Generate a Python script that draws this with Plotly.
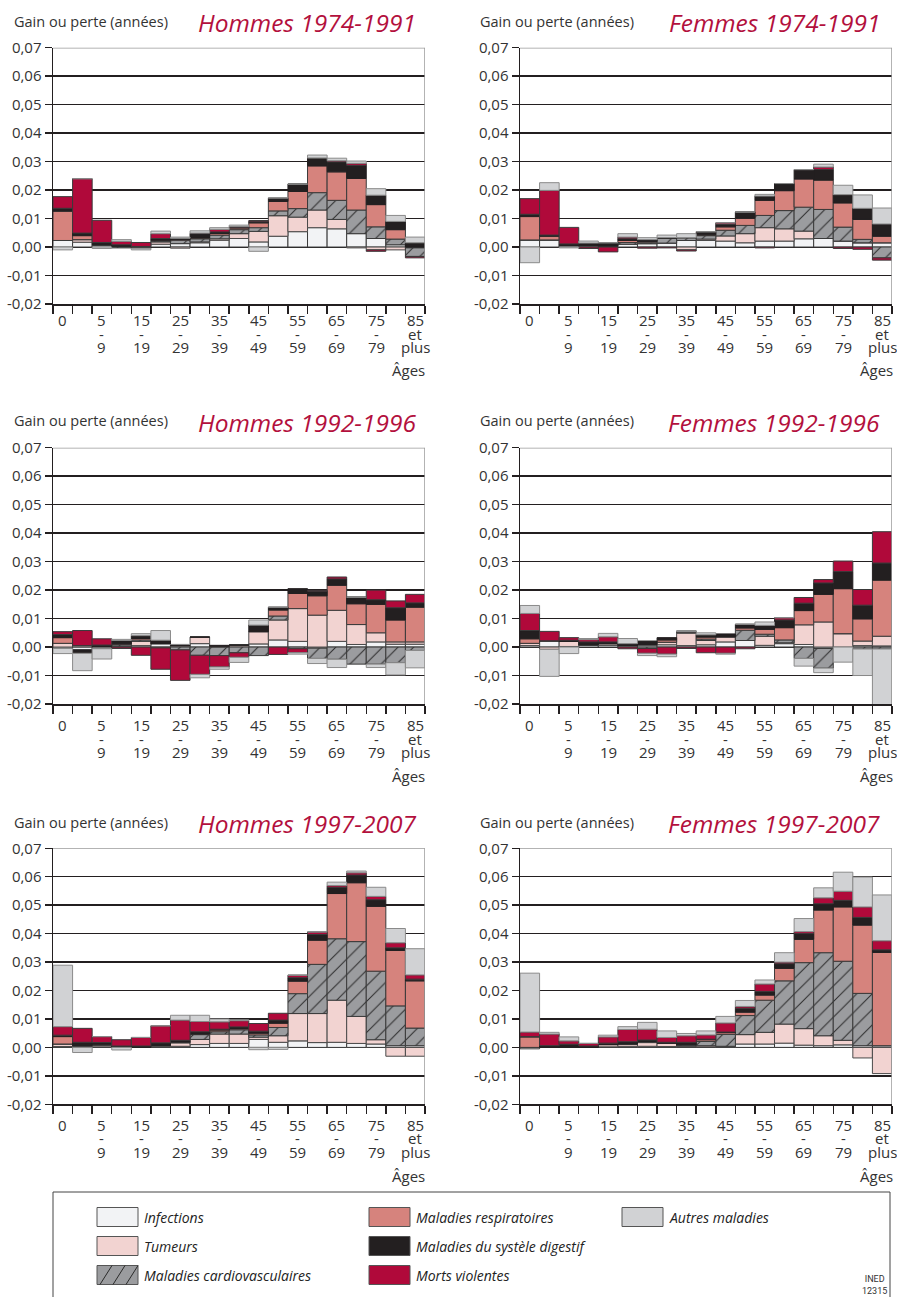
import plotly.graph_objects as go

W, H = 897, 1297

# ---------------- data ----------------
age_groups = ["0", "1-4", "5-9", "10-14", "15-19", "20-24", "25-29", "30-34", "35-39", "40-44",
              "45-49", "50-54", "55-59", "60-64", "65-69", "70-74", "75-79", "80-84", "85+"]
tick_lines = {0: ["0"], 2: ["5", "-", "9"], 4: ["15", "-", "19"], 6: ["25", "-", "29"],
              8: ["35", "-", "39"], 10: ["45", "-", "49"], 12: ["55", "-", "59"],
              14: ["65", "-", "69"], 16: ["75", "-", "79"], 18: ["85", "et", "plus"]}
y_tickvals = [-0.02, -0.01, 0.0, 0.01, 0.02, 0.03, 0.04, 0.05, 0.06, 0.07]
y_ticktext = ["-0,02", "-0,01", "0,00", "0,01", "0,02", "0,03", "0,04", "0,05", "0,06", "0,07"]

causes = ["Infections", "Tumeurs", "Maladies cardiovasculaires", "Maladies respiratoires",
          "Maladies du systèle digestif", "Morts violentes", "Autres maladies"]

# Hommes 1974-1991
H74_inf = [0.0023, 0.0017, 0.0006, 0.0003, 0.0002, 0.0010, 0.0012, 0.0015, 0.0024, 0.0030, 0.0018, 0.0038, 0.0054, 0.0068, 0.0064, 0.0047, 0.0030, 0.0008, 0.0]
H74_tum = [0.0, 0.0009, 0.0002, 0.0, 0.0, 0.0008, -0.0004, 0.0003, 0.0005, 0.0017, 0.0037, 0.0072, 0.0051, 0.0062, 0.0033, -0.0003, -0.0010, -0.0010, -0.0003]
H74_car = [0.0, 0.0, 0.0, -0.0003, 0.0, 0.0003, 0.0012, 0.0011, 0.0013, 0.0014, 0.0013, 0.0017, 0.0030, 0.0061, 0.0067, 0.0083, 0.0041, 0.0020, -0.0030]
H74_res = [0.0103, 0.0014, 0.0, 0.0, 0.0, 0.0003, 0.0002, 0.0003, 0.0006, 0.0006, 0.0017, 0.0033, 0.0060, 0.0094, 0.0100, 0.0111, 0.0078, 0.0033, 0.0]
H74_dig = [0.0010, 0.0009, 0.0008, 0.0005, -0.0004, 0.0006, 0.0004, 0.0015, 0.0005, 0.0002, 0.0004, 0.0010, 0.0026, 0.0026, 0.0035, 0.0046, 0.0033, 0.0029, 0.0015]
H74_vio = [0.0041, 0.0191, 0.0078, 0.0012, 0.0014, 0.0017, 0.0001, 0.0002, 0.0009, 0.0003, 0.0004, 0.0002, 0.0, 0.0002, 0.0004, 0.0007, -0.0005, 0.0, -0.0005]
H74_aut = [-0.0010, 0.0, -0.0005, 0.0006, -0.0006, 0.0009, 0.0004, 0.0008, 0.0006, 0.0005, -0.0015, 0.0001, 0.0, 0.0010, 0.0009, 0.0008, 0.0023, 0.0021, 0.0020]

# Femmes 1974-1991
F74_inf = [0.0025, 0.0025, 0.0005, 0.0004, 0.0003, 0.0010, 0.0012, 0.0014, 0.0023, 0.0023, 0.0021, 0.0015, 0.0021, 0.0021, 0.0029, 0.0030, 0.0021, 0.0015, 0.0015]
F74_tum = [0.0, 0.0, 0.0, 0.0, 0.0, 0.0, 0.0, 0.0, -0.0010, 0.0005, 0.0018, 0.0032, 0.0047, 0.0043, 0.0027, 0.0, 0.0, 0.0, 0.0]
F74_car = [0.0, 0.0, 0.0, 0.0002, 0.0, 0.0006, 0.0005, 0.0017, 0.0010, 0.0012, 0.0020, 0.0029, 0.0043, 0.0064, 0.0084, 0.0102, 0.0049, 0.0012, -0.0038]
F74_res = [0.0082, 0.0013, 0.0, 0.0, 0.0, 0.0007, 0.0003, 0.0, 0.0, 0.0003, 0.0012, 0.0025, 0.0053, 0.0070, 0.0099, 0.0103, 0.0085, 0.0070, 0.0023]
F74_dig = [0.0008, 0.0004, 0.0006, 0.0008, 0.0012, 0.0006, 0.0006, 0.0002, 0.0, 0.0008, 0.0008, 0.0022, 0.0015, 0.0025, 0.0033, 0.0037, 0.0029, 0.0039, 0.0043]
F74_vio = [0.0055, 0.0157, 0.0058, -0.0005, -0.0017, 0.0006, -0.0004, -0.0003, -0.0004, 0.0003, 0.0006, 0.0, -0.0003, 0.0, 0.0, 0.0009, -0.0005, -0.0008, -0.0008]
F74_aut = [-0.0055, 0.0027, -0.0003, 0.0007, 0.0, 0.0012, 0.0007, 0.0009, 0.0014, 0.0, 0.0, 0.0, 0.0006, 0.0, 0.0, 0.0010, 0.0033, 0.0047, 0.0056]

# Hommes 1992-1996
H92_inf = [-0.0005, -0.0010, -0.0006, 0.0003, 0.0005, 0.0012, 0.0, 0.0012, 0.0, 0.0, 0.0011, 0.0025, 0.0020, -0.0004, 0.0020, 0.0009, 0.0018, 0.0010, 0.0010]
H92_tum = [0.0013, 0.0005, 0.0002, 0.0, 0.0015, 0.0, 0.0004, 0.0023, 0.0, 0.0007, 0.0043, 0.0070, 0.0115, 0.0112, 0.0109, 0.0070, 0.0032, 0.0008, 0.0008]
H92_car = [0.0, 0.0, 0.0, 0.0005, 0.0005, 0.0, -0.0010, -0.0029, -0.0030, -0.0020, -0.0030, 0.0014, -0.0006, -0.0036, -0.0043, -0.0060, -0.0060, -0.0055, -0.0012]
H92_res = [0.0020, 0.0, 0.0, 0.0003, 0.0005, -0.0003, 0.0002, 0.0, 0.0003, 0.0, 0.0, 0.0021, 0.0053, 0.0068, 0.0088, 0.0073, 0.0100, 0.0077, 0.0122]
H92_dig = [0.0011, -0.0012, 0.0005, 0.0012, 0.0010, 0.0012, 0.0003, 0.0, 0.0003, 0.0, 0.0023, 0.0010, 0.0017, 0.0016, 0.0022, 0.0023, 0.0016, 0.0043, 0.0015]
H92_vio = [0.0010, 0.0053, 0.0022, -0.0005, -0.0029, -0.0075, -0.0107, -0.0067, -0.0040, -0.0016, 0.0, -0.0026, -0.0014, 0.0003, 0.0007, 0.0, 0.0034, 0.0024, 0.0030]
H92_aut = [-0.0018, -0.0061, -0.0036, 0.0004, 0.0007, 0.0034, 0.0, -0.0012, -0.0008, -0.0018, 0.0018, 0.0, -0.0005, -0.0018, -0.0029, 0.0, -0.0012, -0.0043, -0.0061]

# Femmes 1992-1996
F92_inf = [0.0005, 0.0022, 0.0002, 0.0006, 0.0006, 0.0005, 0.0008, 0.0008, 0.0005, 0.0008, 0.0018, 0.0023, 0.0006, 0.0012, 0.0009, -0.0005, 0.0, 0.0005, 0.0004]
F92_tum = [0.0008, -0.0008, 0.0018, 0.0002, 0.0006, 0.0, 0.0, 0.0009, 0.0044, 0.0015, 0.0018, 0.0, 0.0032, 0.0003, 0.0069, 0.0088, 0.0047, 0.0016, 0.0034]
F92_car = [0.0, 0.0, 0.0, 0.0, 0.0, 0.0, -0.0005, 0.0, 0.0003, 0.0005, 0.0, 0.0036, 0.0007, 0.0010, -0.0040, -0.0069, 0.0, -0.0007, -0.0007]
F92_res = [0.0016, 0.0, 0.0, 0.0, 0.0, 0.0, 0.0, 0.0008, 0.0002, 0.0007, 0.0, 0.0008, 0.0017, 0.0043, 0.0050, 0.0097, 0.0158, 0.0078, 0.0197]
F92_dig = [0.0029, 0.0, 0.0004, 0.0010, 0.0006, 0.0007, 0.0013, 0.0008, 0.0, 0.0008, 0.0010, 0.0013, 0.0014, 0.0027, 0.0026, 0.0040, 0.0060, 0.0048, 0.0060]
F92_vio = [0.0060, 0.0033, 0.0009, 0.0008, 0.0018, -0.0006, -0.0017, -0.0025, -0.0005, -0.0020, -0.0022, -0.0006, 0.0, 0.0008, 0.0020, 0.0012, 0.0037, 0.0055, 0.0110]
F92_aut = [0.0028, -0.0095, -0.0023, 0.0004, 0.0012, 0.0018, -0.0008, -0.0009, 0.0004, 0.0007, -0.0003, 0.0, 0.0012, 0.0, -0.0027, -0.0016, -0.0053, -0.0093, -0.0198]

# Hommes 1997-2007
H97_inf = [0.0003, 0.0003, 0.0002, 0.0, 0.0, 0.0002, 0.0004, 0.0010, 0.0014, 0.0014, 0.0028, 0.0018, 0.0023, 0.0017, 0.0018, 0.0014, 0.0012, 0.0006, 0.0006]
H97_tum = [0.0009, 0.0003, 0.0005, 0.0, 0.0, 0.0003, 0.0012, 0.0018, 0.0033, 0.0033, 0.0008, 0.0023, 0.0096, 0.0102, 0.0148, 0.0095, 0.0015, -0.0031, -0.0031]
H97_car = [0.0, 0.0, 0.0, 0.0, 0.0, 0.0002, 0.0003, 0.0017, 0.0008, 0.0015, 0.0008, 0.0029, 0.0070, 0.0173, 0.0216, 0.0263, 0.0241, 0.0140, 0.0062]
H97_res = [0.0026, 0.0, 0.0004, 0.0, 0.0, 0.0, 0.0, 0.0002, 0.0006, 0.0004, 0.0006, 0.0015, 0.0044, 0.0085, 0.0159, 0.0207, 0.0228, 0.0195, 0.0166]
H97_dig = [0.0005, 0.0012, 0.0006, 0.0005, 0.0005, 0.0009, 0.0006, 0.0008, 0.0003, 0.0006, 0.0007, 0.0011, 0.0012, 0.0020, 0.0022, 0.0027, 0.0023, 0.0009, 0.0006]
H97_vio = [0.0030, 0.0049, 0.0021, 0.0022, 0.0030, 0.0060, 0.0071, 0.0036, 0.0026, 0.0022, 0.0027, 0.0024, 0.0009, 0.0009, 0.0006, 0.0008, 0.0012, 0.0018, 0.0015]
H97_aut = [0.0216, -0.0018, 0.0, -0.0009, 0.0, 0.0, 0.0017, 0.0022, 0.0010, 0.0003, -0.0008, -0.0007, 0.0, 0.0, 0.0012, 0.0006, 0.0032, 0.0050, 0.0092]

# Femmes 1997-2007
F97_inf = [-0.0005, 0.0, 0.0, 0.0, 0.0002, 0.0004, 0.0004, 0.0003, 0.0002, 0.0002, 0.0004, 0.0012, 0.0012, 0.0015, 0.0008, 0.0006, 0.0009, 0.0006, 0.0006]
F97_tum = [0.0, 0.0, 0.0, 0.0, 0.0008, 0.0008, 0.0013, 0.0012, 0.0003, 0.0004, 0.0, 0.0033, 0.0041, 0.0067, 0.0058, 0.0035, 0.0016, -0.0037, -0.0092]
F97_car = [0.0, 0.0, 0.0, 0.0, 0.0, 0.0, 0.0004, 0.0, 0.0004, 0.0015, 0.0042, 0.0067, 0.0113, 0.0152, 0.0232, 0.0292, 0.0278, 0.0184, 0.0]
F97_res = [0.0037, 0.0, 0.0, 0.0, 0.0, 0.0, 0.0, 0.0, 0.0, 0.0006, 0.0006, 0.0012, 0.0018, 0.0044, 0.0082, 0.0150, 0.0191, 0.0240, 0.0328]
F97_dig = [0.0001, 0.0006, 0.0011, 0.0005, 0.0005, 0.0008, 0.0005, 0.0003, 0.0009, 0.0002, 0.0002, 0.0014, 0.0013, 0.0016, 0.0020, 0.0022, 0.0023, 0.0027, 0.0009]
F97_vio = [0.0016, 0.0041, 0.0012, 0.0009, 0.0022, 0.0043, 0.0038, 0.0017, 0.0023, 0.0015, 0.0032, 0.0006, 0.0026, 0.0006, 0.0007, 0.0021, 0.0032, 0.0037, 0.0032]
F97_aut = [0.0207, 0.0006, 0.0014, 0.0, 0.0006, 0.0010, 0.0024, 0.0023, 0.0008, 0.0014, 0.0023, 0.0021, 0.0014, 0.0033, 0.0046, 0.0035, 0.0067, 0.0105, 0.0161]

panels = [
    ("Hommes 1974-1991", [H74_inf, H74_tum, H74_car, H74_res, H74_dig, H74_vio, H74_aut]),
    ("Femmes 1974-1991", [F74_inf, F74_tum, F74_car, F74_res, F74_dig, F74_vio, F74_aut]),
    ("Hommes 1992-1996", [H92_inf, H92_tum, H92_car, H92_res, H92_dig, H92_vio, H92_aut]),
    ("Femmes 1992-1996", [F92_inf, F92_tum, F92_car, F92_res, F92_dig, F92_vio, F92_aut]),
    ("Hommes 1997-2007", [H97_inf, H97_tum, H97_car, H97_res, H97_dig, H97_vio, H97_aut]),
    ("Femmes 1997-2007", [F97_inf, F97_tum, F97_car, F97_res, F97_dig, F97_vio, F97_aut]),
]

# ---------------- styles ----------------
fills = ["#f2f3f5", "#f2d3d1", "#9b9c9f", "#d6837d", "#231f20", "#b0093a", "#d1d2d4"]
edges = ["#3a3a3a", "#4a4a4a", "#3a3a3a", "#3a3a3a", "#231f20", "#3a3a3a", "#8a8a8a"]
CRIMSON = "#b3103d"
TXT = "#333333"
FONT = "Open Sans"

col_px = [(53, 425), (520, 892)]
row_px = [(47.7, 304.0), (447.7, 704.0), (848.3, 1104.3)]
title_y = [21, 421, 822]
ages_y = [370, 776, 1176]
label_dy = [[16, 29.5, 43], [21, 35, 48], [21, 34, 48]]


def px_x(p):
    return p / W


def px_y(p):
    return 1 - p / H


fig = go.Figure()
annotations = []
shapes = []
layout_axes = {}

for k, (title, series) in enumerate(panels):
    r, c = divmod(k, 2)
    xs = "x" if k == 0 else f"x{k+1}"
    ys = "y" if k == 0 else f"y{k+1}"
    xname = "xaxis" if k == 0 else f"xaxis{k+1}"
    yname = "yaxis" if k == 0 else f"yaxis{k+1}"
    x0p, x1p = col_px[c]
    y0p, y1p = row_px[r]

    for j, vals in enumerate(series):
        marker = dict(color=fills[j], line=dict(color=edges[j], width=1))
        if j == 2:
            marker["pattern"] = dict(shape="/", fgcolor="#2a2a2a", bgcolor=fills[j],
                                     size=11, solidity=0.09, fillmode="replace")
        fig.add_trace(go.Bar(x=list(range(len(age_groups))), y=vals, width=1.0,
                             name=causes[j], marker=marker, xaxis=xs, yaxis=ys,
                             showlegend=False, hoverinfo="skip"))

    layout_axes[xname] = dict(domain=[px_x(x0p), px_x(x1p)], range=[-0.5, 18.5], anchor=ys,
                              automargin=False,
                              showgrid=False, zeroline=False, showline=True, linecolor="#231f20",
                              linewidth=1.5, tickmode="array",
                              tickvals=[i - 0.5 for i in range(20)], ticks="outside",
                              ticklen=8, tickwidth=1.5, tickcolor="#231f20",
                              showticklabels=False, fixedrange=True)
    layout_axes[yname] = dict(domain=[px_y(y1p), px_y(y0p)], range=[-0.02, 0.07], anchor=xs,
                              automargin=False,
                              tickmode="array", tickvals=y_tickvals, ticktext=y_ticktext,
                              ticks="outside", ticklen=7, tickwidth=1.5, tickcolor="#231f20",
                              showline=True, linecolor="#231f20", linewidth=1.5,
                              showgrid=True, gridcolor="#231f20", gridwidth=1.5,
                              zeroline=False, tickfont=dict(family=FONT, size=15, color=TXT),
                              fixedrange=True)

    # frame (top and right, gray)
    shapes.append(dict(type="line", xref=xs, yref=ys, x0=-0.5, x1=18.5, y0=0.07, y1=0.07,
                       line=dict(color="#9a9a9a", width=1.5), layer="above"))
    shapes.append(dict(type="line", xref=xs, yref=ys, x0=18.5, x1=18.5, y0=-0.02, y1=0.07,
                       line=dict(color="#9a9a9a", width=1.5), layer="above"))

    # headings
    gx = 12 if c == 0 else 478
    annotations.append(dict(text="Gain ou perte (années)", xref="paper", yref="paper",
                            x=px_x(gx), y=px_y(title_y[r]), xanchor="left", yanchor="middle",
                            showarrow=False, font=dict(family=FONT, size=14.5, color=TXT)))
    tx = 418 if c == 0 else 882
    annotations.append(dict(text=title, xref="paper", yref="paper",
                            x=px_x(tx), y=px_y(title_y[r] + 1), xanchor="right", yanchor="middle",
                            showarrow=False,
                            font=dict(family=FONT, size=24.5, color=CRIMSON, style="italic")))
    ax = 427 if c == 0 else 895
    annotations.append(dict(text="Âges", xref="paper", yref="paper",
                            x=px_x(ax), y=px_y(ages_y[r]), xanchor="right", yanchor="middle",
                            showarrow=False, font=dict(family=FONT, size=15, color=TXT)))
    # x tick labels, one line each
    for i, lines in tick_lines.items():
        for li, t in enumerate(lines):
            annotations.append(dict(text=t, xref=xs, yref="paper", x=i,
                                    y=px_y(y1p + label_dy[r][li]), xanchor="center",
                                    yanchor="middle", showarrow=False,
                                    font=dict(family=FONT, size=15, color=TXT)))

# ---------------- legend (drawn) ----------------
shapes.append(dict(type="rect", xref="paper", yref="paper", x0=px_x(53), x1=px_x(890),
                   y0=px_y(1320), y1=px_y(1192), line=dict(color="#444444", width=1),
                   fillcolor="rgba(0,0,0,0)", layer="below"))
legend_cols = [97, 369, 622]
legend_rows = [1217, 1246, 1275]
legend_pos = [(0, 0), (0, 1), (0, 2), (1, 0), (1, 1), (1, 2), (2, 0)]
for j, (cc, rr) in enumerate(legend_pos):
    sx0 = legend_cols[cc]
    sx1 = sx0 + 41
    sy = legend_rows[rr]
    shapes.append(dict(type="rect", xref="paper", yref="paper", x0=px_x(sx0), x1=px_x(sx1),
                       y0=px_y(sy + 9.5), y1=px_y(sy - 9.5), fillcolor=fills[j],
                       line=dict(color="#555555", width=1)))
    if j == 2:
        for bx in (100, 113, 126):
            shapes.append(dict(type="line", xref="paper", yref="paper",
                               x0=px_x(bx), y0=px_y(sy + 9.5), x1=px_x(bx + 12), y1=px_y(sy - 9.5),
                               line=dict(color="#2a2a2a", width=1)))
    annotations.append(dict(text=causes[j], xref="paper", yref="paper", x=px_x(sx1 + 4),
                            y=px_y(sy), xanchor="left", yanchor="middle", showarrow=False,
                            font=dict(family=FONT, size=14, color="#222222", style="italic")))

annotations.append(dict(text="INED<br>12315", xref="paper", yref="paper", x=px_x(874),
                        y=px_y(1285), xanchor="center", yanchor="middle", showarrow=False,
                        align="center",
                        font=dict(family="Liberation Sans Narrow, Roboto, sans-serif",
                                  size=9, color="#333333")))

fig.update_layout(width=W, height=H, margin=dict(l=0, r=0, t=0, b=0, autoexpand=False),
                  paper_bgcolor="white", plot_bgcolor="white", barmode="relative",
                  bargap=0, showlegend=False, annotations=annotations, shapes=shapes,
                  font=dict(family=FONT, color=TXT), **layout_axes)

fig.write_html("out.html", config={"displayModeBar": False, "staticPlot": True},
               post_script="document.body.style.margin='0';document.body.style.padding='0';"
                           "document.body.style.overflow='hidden';"
                           "document.documentElement.style.overflow='hidden';")
